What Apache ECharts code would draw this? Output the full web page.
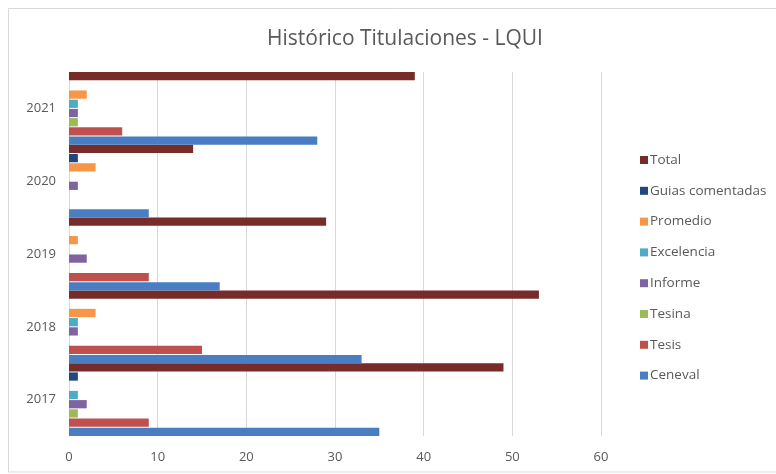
<!DOCTYPE html>
<html>
<head>
<meta charset="utf-8">
<script src="https://cdn.jsdelivr.net/npm/echarts@6/dist/echarts.min.js"></script>
<style>
  html, body { margin: 0; padding: 0; background: #fff; }
  #chart { width: 776px; height: 474px; }
</style>
</head>
<body>
<div id="chart"></div>
<script>
// años (de abajo hacia arriba)
var years = ['2017', '2018', '2019', '2020', '2021']
var xTicks = [0, 10, 20, 30, 40, 50, 60]

var total = [49, 53, 29, 14, 39]
var guias = [1, 0, 0, 1, 0]
var promedio = [0, 3, 1, 3, 2]
var excelencia = [1, 1, 0, 0, 1]
var informe = [2, 1, 2, 1, 1]
var tesina = [1, 0, 0, 0, 1]
var tesis = [9, 15, 9, 0, 6]
var ceneval = [35, 33, 17, 9, 28]

// el primero queda arriba dentro de cada año
var seriesNames = ['Total', 'Guias comentadas', 'Promedio', 'Excelencia', 'Informe', 'Tesina', 'Tesis', 'Ceneval']
var seriesValues = [total, guias, promedio, excelencia, informe, tesina, tesis, ceneval]
var colors = ['#772C2A', '#1F497D', '#F79646', '#4BACC6', '#8064A2', '#9BBB59', '#C0504D', '#4A7EC2']

var font = '"Open Sans", "Liberation Sans", sans-serif'

var series = seriesNames.map(function (name, i) {
  return {
    name: name,
    type: 'bar',
    data: seriesValues[i],
    barCategoryGap: '0%',
    barGap: '12%',
    itemStyle: { color: colors[i] }
  }
})

var chart = echarts.init(document.getElementById('chart'))
chart.setOption({
  animation: false,
  color: colors,
  graphic: [
    {
      type: 'rect',
      shape: { x: 8.5, y: 8.5, width: 800, height: 463.5 },
      style: { fill: 'none', stroke: '#d9d9d9', lineWidth: 1 }
    }
  ],
  title: {
    text: 'Histórico Titulaciones - LQUI',
    left: 400,
    textAlign: 'center',
    top: 24,
    textStyle: { fontFamily: font, fontSize: 21, fontWeight: 'normal', color: '#595959' }
  },
  legend: {
    orient: 'vertical',
    left: 635,
    top: 148,
    itemWidth: 8,
    itemHeight: 8,
    itemGap: 16.8,
    icon: 'rect',
    data: seriesNames,
    textStyle: { fontFamily: font, fontSize: 13.5, color: '#595959', padding: [0, 0, 0, -3] }
  },
  grid: {
    left: 69,
    right: 175,
    top: 72,
    bottom: 38,
    containLabel: false
  },
  xAxis: {
    type: 'value',
    min: 0,
    max: 60,
    interval: 10,
    axisLine: { show: false },
    axisTick: { show: false },
    splitLine: { lineStyle: { color: '#d9d9d9', width: 1 } },
    axisLabel: {
      margin: 15,
      fontFamily: font,
      fontSize: 13,
      color: '#595959',
      formatter: function (v) { return xTicks.indexOf(v) >= 0 ? String(v) : '' }
    }
  },
  yAxis: {
    type: 'category',
    data: years,
    axisLine: { show: true, lineStyle: { color: '#d9d9d9' } },
    axisTick: { show: false },
    axisLabel: { margin: 13, fontFamily: font, fontSize: 13, color: '#595959' }
  },
  series: series
})
</script>
</body>
</html>
